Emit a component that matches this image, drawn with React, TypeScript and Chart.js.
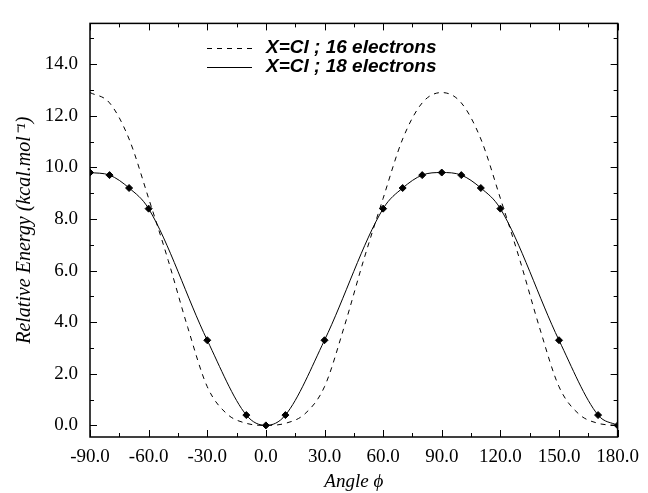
import React, { useEffect, useRef } from "react";
import { Chart, registerables } from "chart.js";

Chart.register(...registerables);

// ---- data ----
const angles18 = [-90, -80, -70, -60, -30, -10, 0, 10, 30, 60, 70, 80, 90, 100, 110, 120, 150, 170, 180];
const energy18 = [9.8, 9.7, 9.2, 8.4, 3.3, 0.4, 0.0, 0.4, 3.3, 8.4, 9.2, 9.7, 9.8, 9.7, 9.2, 8.4, 3.3, 0.4, 0.0];

const angles16 = [-90, -80, -70, -60, -50, -40, -30, -20, -10, 0, 10, 20, 30, 40, 50, 60, 70, 80, 90, 100, 110, 120, 130, 140, 150, 160, 170, 180];
const energy16 = [12.9, 12.5, 11.1, 8.8, 6.4, 3.8, 1.5, 0.45, 0.08, 0.0, 0.08, 0.45, 1.5, 3.8, 6.4, 8.8, 11.1, 12.5, 12.9, 12.5, 11.1, 8.8, 6.4, 3.8, 1.5, 0.45, 0.08, 0.0];

const xTicks = [-90, -60, -30, 0, 30, 60, 90, 120, 150, 180];
const yTicks = [0, 2, 4, 6, 8, 10, 12, 14];

const label16 = "X=Cl ; 16 electrons";
const label18 = "X=Cl ; 18 electrons";
const xTitle = "Angle \u03D5";
const yTitle = "Relative Energy (kcal.mol\u207B\u00B9)";

const X_MIN = -90;
const X_MAX = 180;
const Y_MIN = -0.45;
const Y_MAX = 15.58;

const framePlugin = {
  id: "framePlugin",
  afterDraw(chart: any) {
    const { ctx, chartArea: a, scales } = chart;
    const x = scales.x;
    const y = scales.y;
    ctx.save();
    ctx.strokeStyle = "#000";
    ctx.lineWidth = 1.5;
    ctx.strokeRect(a.left, a.top, a.right - a.left, a.bottom - a.top);
    ctx.lineWidth = 1;
    const major = 7;
    const minor = 4;
    const xMinor: number[] = [];
    for (let i = 0; i < xTicks.length - 1; i++) xMinor.push((xTicks[i] + xTicks[i + 1]) / 2);
    const yMinor: number[] = [];
    for (let i = 0; i < yTicks.length - 1; i++) yMinor.push((yTicks[i] + yTicks[i + 1]) / 2);
    yMinor.push(yTicks[yTicks.length - 1] + 1);
    ctx.beginPath();
    xTicks.forEach((v) => {
      const px = Math.round(x.getPixelForValue(v)) + 0.5;
      ctx.moveTo(px, a.bottom);
      ctx.lineTo(px, a.bottom - major);
      ctx.moveTo(px, a.top);
      ctx.lineTo(px, a.top + major);
    });
    xMinor.forEach((v) => {
      const px = Math.round(x.getPixelForValue(v)) + 0.5;
      ctx.moveTo(px, a.bottom);
      ctx.lineTo(px, a.bottom - minor);
      ctx.moveTo(px, a.top);
      ctx.lineTo(px, a.top + minor);
    });
    yTicks.forEach((v) => {
      const py = Math.round(y.getPixelForValue(v)) + 0.5;
      ctx.moveTo(a.left, py);
      ctx.lineTo(a.left + major, py);
      ctx.moveTo(a.right, py);
      ctx.lineTo(a.right - major, py);
    });
    yMinor.forEach((v) => {
      const py = Math.round(y.getPixelForValue(v)) + 0.5;
      ctx.moveTo(a.left, py);
      ctx.lineTo(a.left + minor, py);
      ctx.moveTo(a.right, py);
      ctx.lineTo(a.right - minor, py);
    });
    ctx.stroke();

    // legend
    const lx0 = 207;
    const lx1 = 252;
    const tx = 266;
    const rows = [
      { y: 48, dash: [5, 5], text: label16 },
      { y: 67, dash: [], text: label18 },
    ];
    ctx.font = "italic bold 19px 'Liberation Sans', Arial, sans-serif";
    ctx.textBaseline = "middle";
    ctx.textAlign = "left";
    ctx.fillStyle = "#000";
    rows.forEach((r) => {
      ctx.beginPath();
      ctx.setLineDash(r.dash);
      ctx.lineWidth = 1;
      ctx.moveTo(lx0, r.y + 0.5);
      ctx.lineTo(lx1, r.y + 0.5);
      ctx.stroke();
      ctx.setLineDash([]);
      ctx.fillText(r.text, tx, r.y);
    });
    ctx.restore();
  },
};

export default function App() {
  const ref = useRef<HTMLCanvasElement | null>(null);
  useEffect(() => {
    document.body.style.margin = "0";
    const canvas = ref.current;
    if (!canvas) return;
    const serif = "'Liberation Serif', 'Times New Roman', serif";
    const chart = new Chart(canvas, {
      type: "line",
      data: {
        datasets: [
          {
            label: label16,
            data: angles16.map((a, i) => ({ x: a, y: energy16[i] })),
            borderColor: "#000",
            borderWidth: 1,
            borderDash: [5, 5],
            pointRadius: 0,
            cubicInterpolationMode: "monotone",
            fill: false,
          },
          {
            label: label18,
            data: angles18.map((a, i) => ({ x: a, y: energy18[i] })),
            borderColor: "#000",
            borderWidth: 1,
            pointStyle: "rectRot",
            pointRadius: 3.5,
            pointBackgroundColor: "#000",
            pointBorderColor: "#000",
            cubicInterpolationMode: "monotone",
            fill: false,
          },
        ],
      },
      options: {
        responsive: false,
        animation: false,
        maintainAspectRatio: false,
        layout: { padding: { top: 10, right: 23, left: 0, bottom: 0 } },
        plugins: {
          legend: { display: false },
          tooltip: { enabled: false },
        },
        scales: {
          x: {
            type: "linear",
            min: X_MIN,
            max: X_MAX,
            afterBuildTicks: (s: any) => {
              s.ticks = xTicks.map((v) => ({ value: v }));
            },
            afterFit: (s: any) => {
              s.height = 56;
            },
            grid: { display: false, drawTicks: false },
            border: { display: false },
            ticks: {
              color: "#000",
              padding: 9,
              maxRotation: 0,
              autoSkip: false,
              font: { family: serif, size: 19 },
              callback: (v: any) => Number(v).toFixed(1),
            },
            title: {
              display: true,
              text: xTitle,
              color: "#000",
              padding: { top: 0, bottom: 0 },
              font: { family: serif, size: 19, style: "italic" },
            },
          },
          y: {
            type: "linear",
            min: Y_MIN,
            max: Y_MAX,
            afterBuildTicks: (s: any) => {
              s.ticks = yTicks.map((v) => ({ value: v }));
            },
            afterFit: (s: any) => {
              s.width = 90;
            },
            grid: { display: false, drawTicks: false },
            border: { display: false },
            ticks: {
              color: "#000",
              padding: 12,
              autoSkip: false,
              font: { family: serif, size: 19 },
              callback: (v: any) => Number(v).toFixed(1),
            },
            title: {
              display: true,
              text: yTitle,
              color: "#000",
              padding: { top: 13, bottom: 0 },
              font: { family: serif, size: 20, style: "italic" },
            },
          },
        },
      },
      plugins: [framePlugin],
    } as any);
    return () => chart.destroy();
  }, []);
  return (
    <div style={{ position: "fixed", left: 0, top: 0, width: 648, height: 493, background: "#fff" }}>
      <canvas ref={ref} width={648} height={493} style={{ width: 648, height: 493 }} />
    </div>
  );
}
